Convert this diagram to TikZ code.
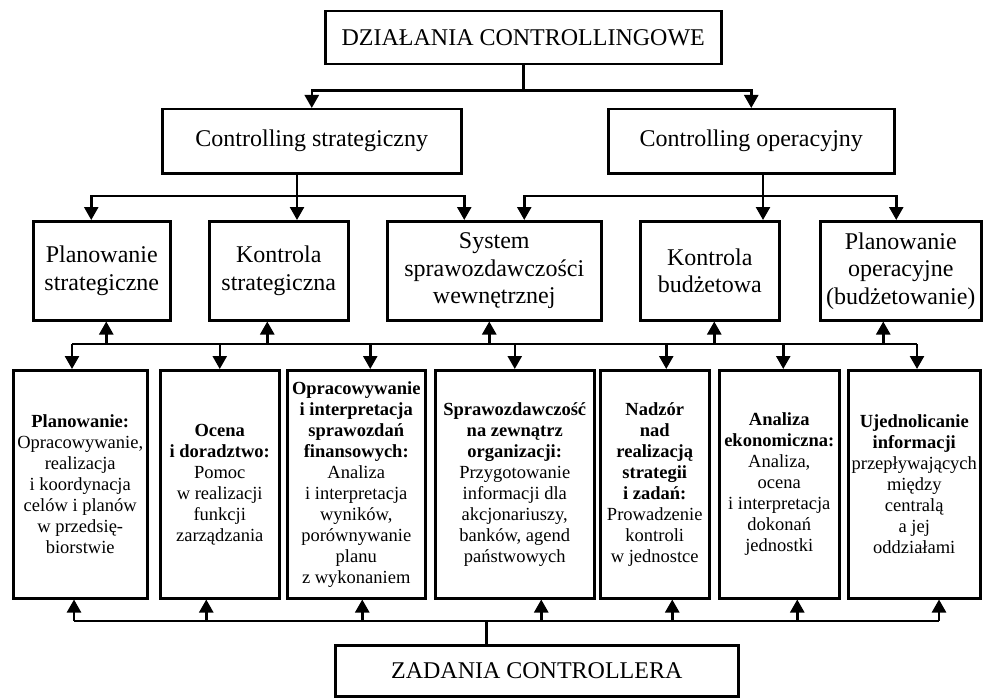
\documentclass[tikz,border=0pt]{standalone}
\usepackage{fontspec}
\setmainfont{Liberation Serif}
\usetikzlibrary{arrows.meta}
\tikzset{>={Triangle[length=13pt,width=14pt]}}
\tikzset{
  box/.style={draw,line width=2.5pt,inner sep=2pt,align=center,anchor=north west},
  head/.style={box,font=\fontsize{24}{27.5}\selectfont},
  task/.style={box,font=\fontsize{18.5}{21}\selectfont,minimum height=228pt},
  link/.style={line width=2.5pt},
}

\begin{document}
\begin{tikzpicture}[x=1pt,y=-1pt]
  \path[fill=white,use as bounding box] (0,0) rectangle (984,698);

  \node[head,minimum width=396pt,minimum height=53pt] (top) at (324,10) {DZIAŁANIA CONTROLLINGOWE};
  \node[head,minimum width=299pt,minimum height=64pt] (strat) at (161,108) {Controlling strategiczny};
  \node[head,minimum width=286pt,minimum height=64pt] (oper) at (607,108) {Controlling operacyjny};

  \node[head,minimum width=137pt,minimum height=99pt] (ps) at (32,220) {Planowanie\\strategiczne};
  \node[head,minimum width=139pt,minimum height=99pt] (ks) at (208,220) {Kontrola\\strategiczna};
  \node[head,minimum width=214pt,minimum height=99pt] (sys) at (386,220) {System\\sprawozdawczości\\wewnętrznej};
  \node[head,minimum width=139pt,minimum height=99pt] (kb) at (639,220) {Kontrola\\budżetowa};
  \node[head,minimum width=161pt,minimum height=99pt] (po) at (819,220) {Planowanie\\operacyjne\\(budżetowanie)};

  \node[task,minimum width=134pt] (b1) at (12,369) {\textbf{Planowanie:}\\Opracowywanie,\\realizacja\\i koordynacja\\celów i planów\\w przedsię-\\biorstwie};
  \node[task,minimum width=119pt] (b2) at (159,369) {\textbf{Ocena}\\\textbf{i doradztwo:}\\Pomoc\\w realizacji\\funkcji\\zarządzania};
  \node[task,minimum width=138pt] (b3) at (286,369) {\textbf{Opracowywanie}\\\textbf{i interpretacja}\\\textbf{sprawozdań}\\\textbf{finansowych:}\\Analiza\\i interpretacja\\wyników,\\porównywanie\\planu\\z wykonaniem};
  \node[task,minimum width=159pt] (b4) at (434,369) {\textbf{Sprawozdawczość}\\\textbf{na zewnątrz}\\\textbf{organizacji:}\\Przygotowanie\\informacji dla\\akcjonariuszy,\\banków, agend\\państwowych};
  \node[task,minimum width=109pt] (b5) at (599,369) {\textbf{Nadzór}\\\textbf{nad}\\\textbf{realizacją}\\\textbf{strategii}\\\textbf{i zadań:}\\Prowadzenie\\kontroli\\w jednostce};
  \node[task,minimum width=120pt] (b6) at (718,369) {\textbf{Analiza}\\\textbf{ekonomiczna:}\\Analiza,\\ocena\\i interpretacja\\dokonań\\jednostki};
  \node[task,minimum width=132pt] (b7) at (847,369) {\textbf{Ujednolicanie}\\\textbf{informacji}\\przepływających\\między\\centralą\\a jej\\oddziałami};

  \node[head,minimum width=403pt,minimum height=51pt] (zad) at (334,644) {ZADANIA CONTROLLERA};

  % from the top box
  \draw[link,->] (top.south) -- ++(0,25) -| (strat.north);
  \draw[link,->] (top.south) -- ++(0,25) -| (oper.north);

  % strategic branch
  \coordinate (s0) at (297,196);
  \draw[link] (strat.south -| s0) -- (s0);
  \draw[link,->] (s0) -| ([xshift=-10.5pt]ps.north);
  \draw[link,->] (s0) -- (s0 |- ks.north);
  \draw[link,->] (s0) -| ([xshift=-30pt]sys.north);

  % operational branch
  \coordinate (o0) at (763,196);
  \draw[link] (oper.south -| o0) -- (o0);
  \draw[link,->] (o0) -| ([xshift=30pt]sys.north);
  \draw[link,->] (o0) -- (o0 |- kb.north);
  \draw[link,->] (o0) -| ([xshift=-4.5pt]po.north);

  % middle bus
  \coordinate (m0) at (72,344);
  \coordinate (m1) at (917,344);
  \draw[link] (m0) -- (m1);
  \draw[link,->] ([xshift=4.5pt]ps.south |- m0) -- ([xshift=4.5pt]ps.south);
  \draw[link,->] ([xshift=-11.5pt]ks.south |- m0) -- ([xshift=-11.5pt]ks.south);
  \draw[link,->] ([xshift=-5pt]sys.south |- m0) -- ([xshift=-5pt]sys.south);
  \draw[link,->] ([xshift=4.5pt]kb.south |- m0) -- ([xshift=4.5pt]kb.south);
  \draw[link,->] ([xshift=-17.5pt]po.south |- m0) -- ([xshift=-17.5pt]po.south);
  \draw[link,->] (m0) -- (m0 |- b1.north);
  \draw[link,->] (b2.north |- m0) -- (b2.north);
  \draw[link,->] ([xshift=14pt]b3.north |- m0) -- ([xshift=14pt]b3.north);
  \draw[link,->] (b4.north |- m0) -- (b4.north);
  \draw[link,->] ([xshift=11.5pt]b5.north |- m0) -- ([xshift=11.5pt]b5.north);
  \draw[link,->] ([xshift=4pt]b6.north |- m0) -- ([xshift=4pt]b6.north);
  \draw[link,->] (m1) -- (m1 |- b7.north);

  % bottom bus
  \coordinate (z0) at (74,621);
  \coordinate (z1) at (939,621);
  \draw[link] (z0) -- (z1);
  \draw[link] ([xshift=-50.5pt]zad.north) -- ([xshift=-50.5pt]zad.north |- z0);
  \draw[link,->] (z0) -- (z0 |- b1.south);
  \draw[link,->] ([xshift=-13.5pt]b2.south |- z0) -- ([xshift=-13.5pt]b2.south);
  \draw[link,->] ([xshift=6pt]b3.south |- z0) -- ([xshift=6pt]b3.south);
  \draw[link,->] ([xshift=26.5pt]b4.south |- z0) -- ([xshift=26.5pt]b4.south);
  \draw[link,->] ([xshift=17.5pt]b5.south |- z0) -- ([xshift=17.5pt]b5.south);
  \draw[link,->] ([xshift=18pt]b6.south |- z0) -- ([xshift=18pt]b6.south);
  \draw[link,->] (z1) -- (z1 |- b7.south);
\end{tikzpicture}
\end{document}
